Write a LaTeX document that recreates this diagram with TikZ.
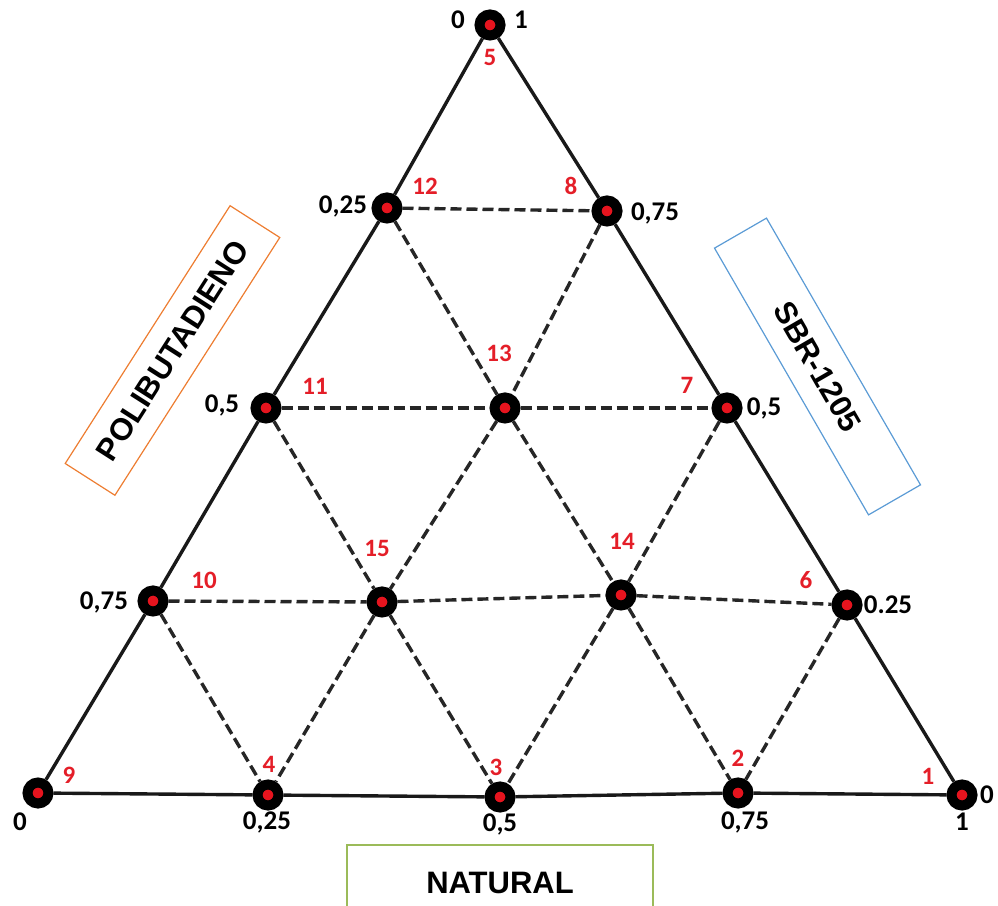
\documentclass[tikz,border=0pt]{standalone}
\usepackage{fontspec}
\setmainfont{Liberation Sans}
\newfontfamily\numfont{Carlito}
\usepackage{tikz}
\usepackage{xcolor}
\definecolor{cDot}{RGB}{230,20,30}
\definecolor{cLabel}{RGB}{228,30,40}
\definecolor{cPoly}{RGB}{237,125,49}
\definecolor{cSbr}{RGB}{91,155,213}
\definecolor{cNat}{RGB}{155,187,89}

\begin{document}
\begin{tikzpicture}[x=1pt, y=1pt,
  mix/.style={circle, fill=cDot, draw=black, line width=10pt, minimum size=21pt, inner sep=0pt},
  rim/.style={line width=3.4pt, black!90},
  tie/.style={line width=3.4pt, black!85, dash pattern=on 11pt off 5pt},
  num/.style={text=cLabel, font=\numfont\bfseries\fontsize{25}{25}\selectfont, inner sep=0pt},
  val/.style={font=\numfont\bfseries\fontsize{27}{27}\selectfont, inner sep=0pt},
  comp/.style={draw, line width=1.2pt, font=\bfseries\fontsize{31}{31}\selectfont, inner sep=0pt}]
\useasboundingbox (0,0) rectangle (998,905);
% mixture points, 15 runs
\foreach \n/\x/\y in {5/490/880, 12/387/697, 8/607/694, 11/266/497, 13/505/497, 7/727/497,
  10/153/304, 15/382/303, 14/621/310, 6/847/300, 9/38/112, 4/268/110, 3/500/108, 2/738/112, 1/962/110}
  { \node[mix] (p\n) at (\x,\y) {}; }
% triangle sides
\draw[rim] (p9) -- (p10) -- (p11) -- (p12) -- (p5);
\draw[rim] (p5) -- (p8) -- (p7) -- (p6) -- (p1);
\draw[rim] (p9) -- (p4) -- (p3) -- (p2) -- (p1);
% inner lines
\draw[tie] (p12) -- (p8);
\draw[tie] (p11) -- (p13) -- (p7);
\draw[tie] (p10) -- (p15) -- (p14) -- (p6);
\draw[tie] (p12) -- (p13) -- (p14) -- (p2);
\draw[tie] (p11) -- (p15) -- (p3);
\draw[tie] (p10) -- (p4);
\draw[tie] (p8) -- (p13) -- (p15) -- (p4);
\draw[tie] (p7) -- (p14) -- (p3);
\draw[tie] (p6) -- (p2);
% run numbers
\foreach \n/\x/\y in {5/490/848, 12/425/719, 8/571/719, 11/315/519, 13/499/552, 7/687/520,
  10/204/325, 15/377/357, 14/622/364, 6/806/325, 9/69/130, 4/269/141, 3/496/138, 2/738/147, 1/928/129}
  { \node[num] (l\n) at (\x,\y) {\n}; }
% fractions
\node[val] (vTopL) at (458,885) {0};
\node[val] (vTopR) at (521,885) {1};
\node[val] (vL1) at (343,699) {0,25};
\node[val] (vL2) at (222,500) {0,5};
\node[val] (vL3) at (104,303) {0,75};
\node[val] (vR1) at (655,692) {0,75};
\node[val] (vR2) at (764,497) {0,5};
\node[val] (vR3) at (888,300) {0.25};
\node[val] (vB0) at (20,83) {0};
\node[val] (vB1) at (267,83) {0,25};
\node[val] (vB2) at (500,81) {0,5};
\node[val] (vB3) at (745,83) {0,75};
\node[val] (vB4) at (962,83) {1};
\node[val] (vB5) at (987,110) {0};
% components
\node[comp, draw=cPoly, rotate=57.4, minimum width=306, minimum height=59] (cPB) at (172.5,554.5) {POLIBUTADIENO};
\node[comp, draw=cSbr, rotate=-60, minimum width=308, minimum height=60] (cSBR) at (817.5,538.5) {SBR-1205};
\node[comp, draw=cNat, minimum width=306, minimum height=76] (cNR) at (500,22) {NATURAL};
\end{tikzpicture}
\end{document}
